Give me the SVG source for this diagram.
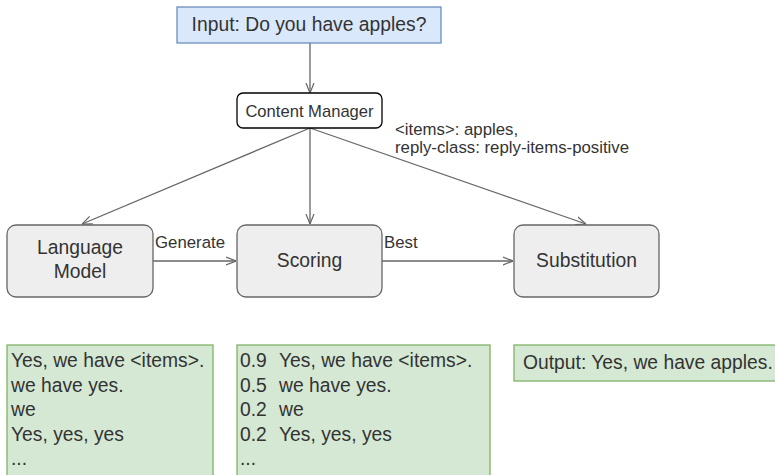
<svg xmlns="http://www.w3.org/2000/svg" width="775" height="475" viewBox="0 0 775 475">
<defs>
<marker id="arr" viewBox="0 0 10 10" refX="10" refY="5" markerWidth="10" markerHeight="10" markerUnits="userSpaceOnUse" orient="auto">
<path d="M0,1 L10,5 L0,9" fill="none" stroke="#666" stroke-width="1.2"/>
</marker>
<style>
text{font-family:"Liberation Sans",Arial,sans-serif;fill:#333}
.c{text-anchor:middle}
.box{fill:#eeeeee;stroke:#666;stroke-width:1.3}
.green{fill:#d5e8d4;stroke:#82b366;stroke-width:1.3}
.edge{fill:none;stroke:#666;stroke-width:1.3;marker-end:url(#arr)}
.n{font-size:19.3px}
.l{font-size:16.8px}
</style>
</defs>
<rect width="775" height="475" fill="#fff"/>
<g id="connectors">
<path class="edge" d="M310,43 L310,93"/>
<path class="edge" d="M310,128 L82,224"/>
<path class="edge" d="M310,128 L310,224"/>
<path class="edge" d="M310,128 L586,224"/>
<path class="edge" d="M153,261 L236,261"/>
<path class="edge" d="M382,261 L513,261"/>
<text class="l" x="155" y="248">Generate</text>
<text class="l" x="384" y="248">Best</text>
<text class="l" x="395" y="135">&lt;items&gt;: apples,</text>
<text class="l" x="395" y="153">reply-class: reply-items-positive</text>
</g>
<g id="input">
<rect x="177" y="7" width="264" height="36" fill="#dae8fc" stroke="#6c8ebf" stroke-width="1.3"/>
<text class="n c" x="309" y="31">Input: Do you have apples?</text>
</g>
<g id="content-manager">
<rect x="237" y="93" width="145" height="35" rx="6" fill="#fff" stroke="#000" stroke-width="1.3"/>
<text class="c" x="309.5" y="117" font-size="16.6">Content Manager</text>
</g>
<g id="language-model">
<rect class="box" x="7" y="225" width="146" height="72" rx="9"/>
<text class="n c" x="80" y="254">Language</text>
<text class="n c" x="80" y="278">Model</text>
</g>
<g id="scoring">
<rect class="box" x="237" y="225" width="145" height="72" rx="9"/>
<text class="n c" x="309.5" y="267">Scoring</text>
</g>
<g id="substitution">
<rect class="box" x="514" y="225" width="145" height="72" rx="9"/>
<text class="n c" x="586.5" y="267">Substitution</text>
</g>
<g id="lm-output">
<rect class="green" x="7" y="345" width="206" height="140"/>
<text class="n" x="11" y="367">Yes, we have &lt;items&gt;.</text>
<text class="n" x="11" y="392">we have yes.</text>
<text class="n" x="11" y="416">we</text>
<text class="n" x="11" y="441">Yes, yes, yes</text>
<text class="n" x="11" y="465">...</text>
</g>
<g id="scoring-output">
<rect class="green" x="237" y="345" width="253" height="140"/>
<text class="n" x="240" y="367">0.9</text><text class="n" x="279" y="367">Yes, we have &lt;items&gt;.</text>
<text class="n" x="240" y="392">0.5</text><text class="n" x="279" y="392">we have yes.</text>
<text class="n" x="240" y="416">0.2</text><text class="n" x="279" y="416">we</text>
<text class="n" x="240" y="441">0.2</text><text class="n" x="279" y="441">Yes, yes, yes</text>
<text class="n" x="240" y="465">...</text>
</g>
<g id="final-output">
<rect class="green" x="514" y="345" width="265" height="36"/>
<text class="n" x="523" y="369">Output: Yes, we have apples.</text>
</g>
</svg>
